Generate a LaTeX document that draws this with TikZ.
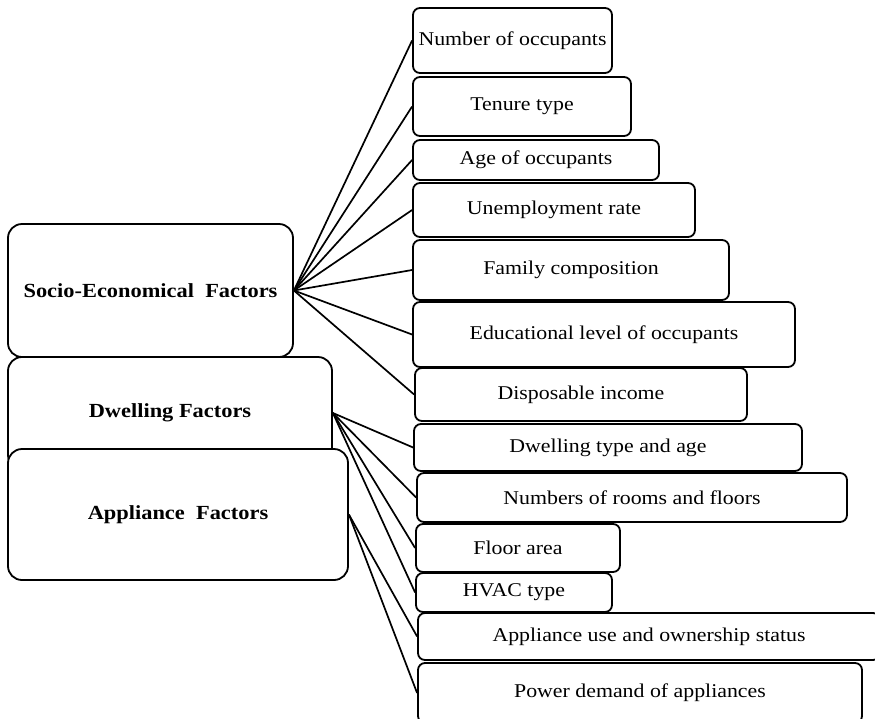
\documentclass[tikz,border=0pt]{standalone}
\usepackage{fontspec}
\setmainfont{Liberation Serif}[FakeStretch=1.12]
\begin{document}
\begin{tikzpicture}[x=1pt,y=-1pt,
   item/.style={draw,line width=1.8pt,rounded corners=7pt,fill=white,
     inner sep=0pt,font=\fontsize{19.5}{22}\selectfont},
   group/.style={draw,line width=1.8pt,rounded corners=14pt,fill=white,
     inner sep=0pt,font=\fontsize{20}{22}\selectfont\bfseries},
   link/.style={line width=1.7pt}]
   \useasboundingbox (0,0) rectangle (875,718);

   % factor groups
   \node[group,minimum width=285pt,minimum height=133pt] (se) at (150.5,290.5)
     {Socio-Economical\ \ Factors};
   \node[group,minimum width=324pt,minimum height=112pt] (dw) at (170,413)
     {Dwelling\ Factors};
   \node[group,minimum width=340pt,minimum height=131pt] (ap) at (178,514.5)
     {Appliance\ \ Factors};

   % single factors
   \node[item,minimum width=199pt,minimum height=65pt] (occ) at (512.5,40.5) {Number of occupants};
   \node[item,minimum width=218pt,minimum height=59pt] (ten) at (522,106.5) {Tenure type};
   \node[item,minimum width=246pt,minimum height=40pt] (age) at (536,160) {Age of occupants};
   \node[item,minimum width=282pt,minimum height=54pt] (unemp) at (554,210) {Unemployment rate};
   \node[item,minimum width=316pt,minimum height=60pt] (fam) at (571,270) {Family composition};
   \node[item,minimum width=382pt,minimum height=65pt] (edu) at (604,334.5) {Educational level of occupants};
   \node[item,minimum width=332pt,minimum height=53pt] (inc) at (581,394.5) {Disposable income};
   \node[item,minimum width=388pt,minimum height=47pt] (dtype) at (608,447.5) {Dwelling type and age};
   \node[item,minimum width=430pt,minimum height=49pt] (rooms) at (632,497.5) {Numbers of rooms and floors};
   \node[item,minimum width=204pt,minimum height=48pt] (area) at (518,548) {Floor area};
   \node[item,minimum width=196pt,minimum height=39pt] (hvac) at (514,592.5) {HVAC type};
   \node[item,minimum width=462pt,minimum height=47pt] (use) at (649,636.5) {Appliance use and ownership status};
   \node[item,minimum width=444pt,minimum height=60pt] (power) at (640,693) {Power demand of appliances};

   \foreach \f in {occ,ten,age,unemp,fam,edu,inc}
     \draw[link] (se.east) -- (\f.west);
   \foreach \f in {dtype,rooms,area,hvac}
     \draw[link] (dw.east) -- (\f.west);
   \foreach \f in {use,power}
     \draw[link] (ap.east) -- (\f.west);
\end{tikzpicture}
\end{document}
